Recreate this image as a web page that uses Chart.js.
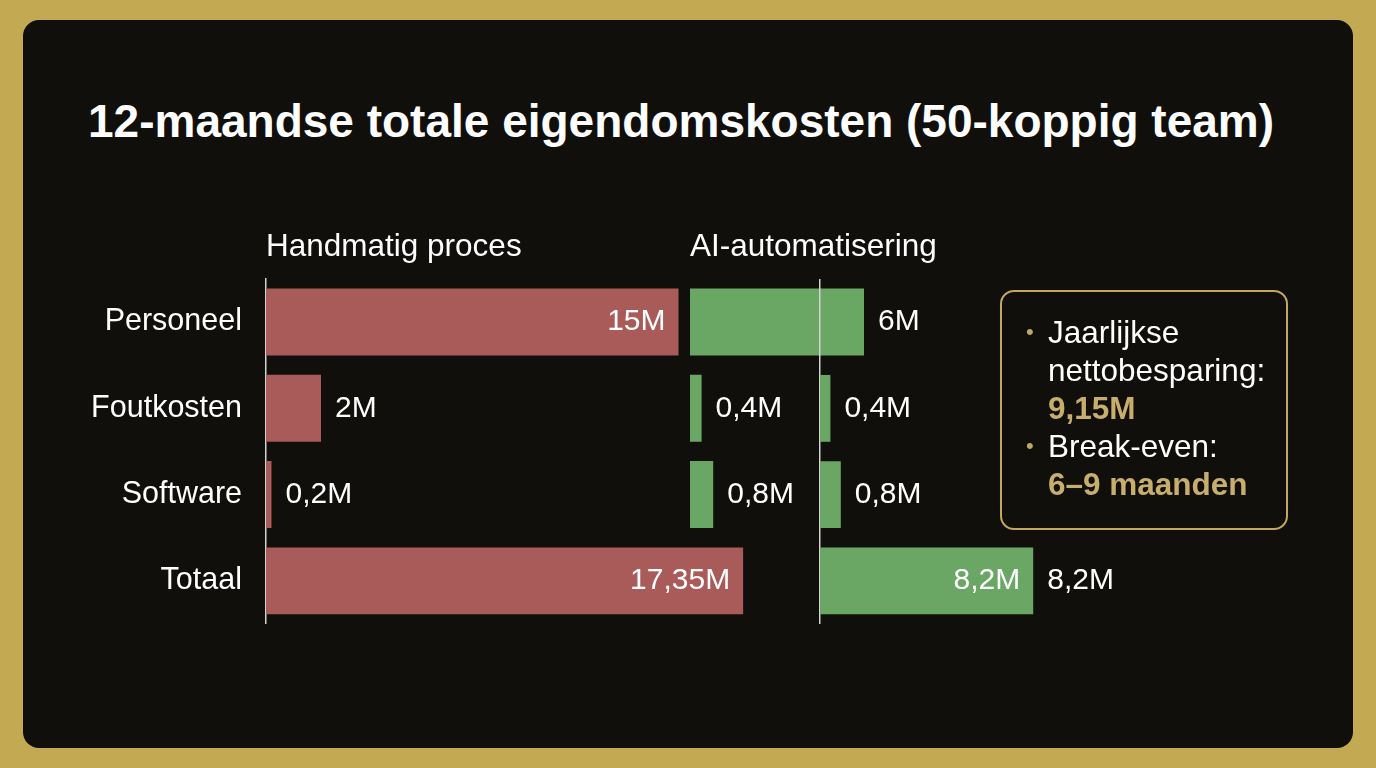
<!DOCTYPE html>
<html lang="nl">
<head>
<meta charset="utf-8">
<script src="https://cdn.jsdelivr.net/npm/chart.js@4"></script>
<style>
  body { margin: 0; width: 1376px; height: 768px; overflow: hidden; background: #c3aa52; font-family: 'Liberation Sans', Arial, sans-serif; }
  #card { position: absolute; left: 23px; top: 20px; width: 1330px; height: 728px; border-radius: 16px; background: #110f0c; }
  #title { position: absolute; left: 88px; top: 98px; font-weight: bold; font-size: 46px; line-height: 46px; color: #fff; white-space: nowrap; }
  .wrap { position: absolute; }
  #note { position: absolute; left: 1000px; top: 290px; width: 288px; height: 240px; box-sizing: border-box;
          border: 2.5px solid #c2a85c; border-radius: 14px; padding: 21px 0 0 46px;
          font-size: 31.5px; line-height: 38px; color: #fff; white-space: nowrap; }
  #note .item { position: relative; }
  #note .dot { position: absolute; left: -22px; top: 0; font-size: 22px; color: #c2a85c; }
  #note b { color: #c8ae6c; }
</style>
</head>
<body>
<div id="card"></div>
<div id="title">12-maandse totale eigendomskosten (50-koppig team)</div>

<div class="wrap" style="left:66px;top:225px;width:750px;height:399px"><canvas id="manualChart"></canvas></div>
<div class="wrap" style="left:690px;top:225px;width:290px;height:399px"><canvas id="aiLeftChart"></canvas></div>
<div class="wrap" style="left:818px;top:279px;width:392px;height:345px"><canvas id="aiRightChart"></canvas></div>

<div id="note">
  <div class="item"><span class="dot">•</span>Jaarlijkse<br>nettobesparing:<br><b>9,15M</b></div>
  <div class="item"><span class="dot">•</span>Break-even:<br><b>6–9 maanden</b></div>
</div>

<script>
// categorieën en waarden (miljoen)
const categories = ['Personeel', 'Foutkosten', 'Software', 'Totaal'];
const manualValues = [15, 2, 0.2, 17.35];
const aiLeftValues = [6, 0.4, 0.8, null];
const aiRightValues = [null, 0.4, 0.8, 8.2];

const RED = '#a85b59';
const GREEN = '#6aa765';
const AXIS = '#d2d2d2';

Chart.defaults.font.family = "'Liberation Sans', Arial, sans-serif";
Chart.defaults.color = '#fff';

const fmt = v => String(v).replace('.', ',') + 'M';

// waardelabels naast / in de balken
const valueLabels = {
  id: 'valueLabels',
  afterDatasetsDraw(chart, args, opts) {
    const ctx = chart.ctx;
    const meta = chart.getDatasetMeta(0);
    const values = chart.data.datasets[0].data;
    ctx.save();
    ctx.font = '30px ' + Chart.defaults.font.family;
    ctx.fillStyle = '#fff';
    ctx.textBaseline = 'middle';
    meta.data.forEach((bar, i) => {
      if (values[i] == null) return;
      const txt = fmt(values[i]);
      if (opts.inside.includes(i)) {
        ctx.textAlign = 'right';
        ctx.fillText(txt, bar.x - 13, bar.y);
      }
      if (opts.outside.includes(i)) {
        ctx.textAlign = 'left';
        ctx.fillText(txt, bar.x + 14, bar.y);
      }
    });
    ctx.restore();
  }
};

// y-as: vaste breedte, geen extra opvulling boven/onder
const fixAxis = w => s => {
  s.width = w;
  s.paddingTop = 0;
  s.paddingBottom = 0;
};

function makeChart(id, values, color, cfg) {
  return new Chart(document.getElementById(id), {
    type: 'bar',
    data: {
      labels: categories,
      datasets: [{
        data: values,
        backgroundColor: color,
        borderWidth: 0,
        barPercentage: 0.775,
        categoryPercentage: 1
      }]
    },
    options: {
      indexAxis: 'y',
      responsive: true,
      maintainAspectRatio: false,
      animation: false,
      layout: { padding: cfg.padding || 0, autoPadding: false },
      scales: {
        x: { display: false, min: 0, max: cfg.max },
        y: cfg.y
      },
      plugins: {
        legend: { display: false },
        tooltip: { enabled: false },
        title: cfg.title ? {
          display: true,
          text: cfg.title,
          align: 'start',
          fullSize: false,
          color: '#fff',
          font: { size: 31.5, weight: 'normal' },
          padding: { top: 3, bottom: 13 }
        } : { display: false },
        valueLabels: cfg.labels
      }
    },
    plugins: [valueLabels]
  });
}

makeChart('manualChart', manualValues, RED, {
  max: 20,
  title: 'Handmatig proces',
  y: {
    ticks: { color: '#fff', font: { size: 30.5 }, padding: 24 },
    grid: { display: false, drawTicks: false },
    border: { display: true, color: AXIS, width: 1.5 },
    afterFit: fixAxis(200)
  },
  labels: { inside: [0, 3], outside: [1, 2] }
});

makeChart('aiLeftChart', aiLeftValues, GREEN, {
  max: 10,
  title: 'AI-automatisering',
  y: { display: false },
  labels: { inside: [], outside: [0, 1, 2] }
});

makeChart('aiRightChart', aiRightValues, GREEN, {
  max: 15,
  padding: { left: 2 },
  y: {
    ticks: { display: false },
    grid: { display: false, drawTicks: false },
    border: { display: true, color: AXIS, width: 1.5 },
    afterFit: fixAxis(0)
  },
  labels: { inside: [3], outside: [1, 2, 3] }
});
</script>
</body>
</html>
